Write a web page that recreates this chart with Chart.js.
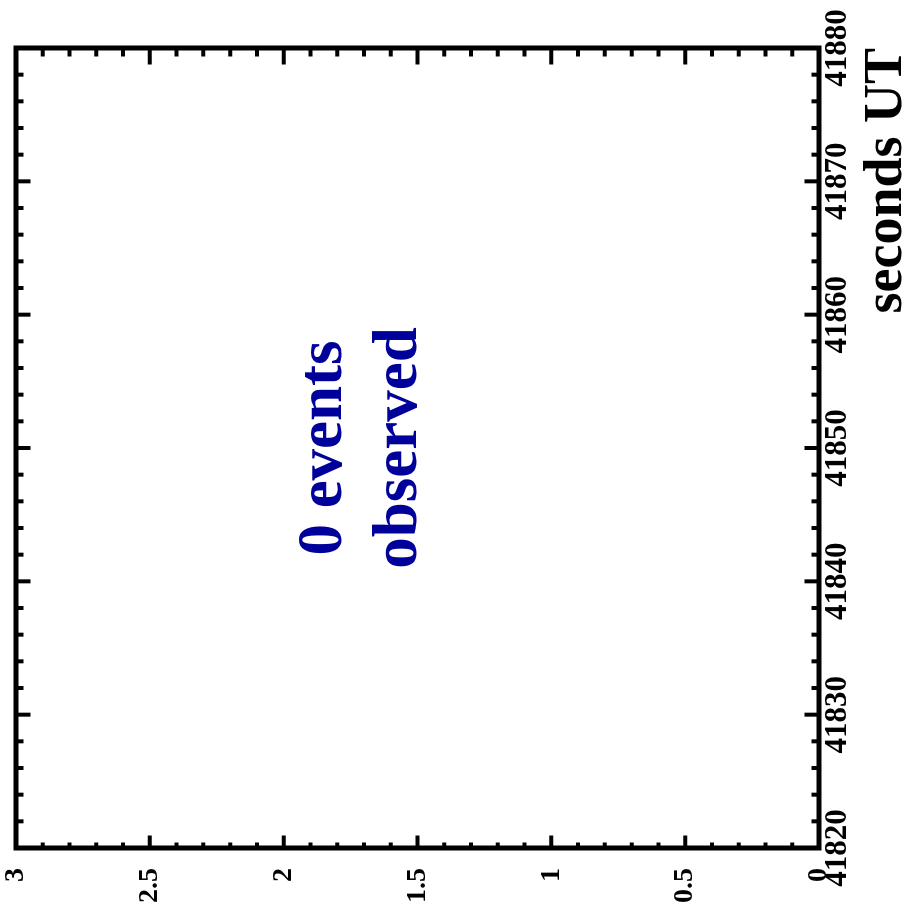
<!DOCTYPE html>
<html>
<head>
<meta charset="utf-8">
<script src="https://cdn.jsdelivr.net/npm/chart.js@4"></script>
<style>
  html, body { margin: 0; padding: 0; background: #fff; overflow: hidden; }
  /* the plot is drawn upright and turned a quarter turn counterclockwise */
  #wrap {
    position: absolute; left: 0; top: 0;
    width: 918px; height: 909px;
    transform-origin: 0 0;
    transform: translate(0, 918px) rotate(-90deg);
  }
</style>
</head>
<body>
<div id="wrap"><canvas id="events-chart"></canvas></div>
<script>
// Data

const xTicks = [41820, 41830, 41840, 41850, 41860, 41870, 41880];
const yTicks = [0, 0.5, 1, 1.5, 2, 2.5, 3];
const yTickLabels = ['0', '0.5', '1', '1.5', '2', '2.5', '3'];
const eventTimes = [];     // no events in the window
const eventCounts = [];

const serif = '"Liberation Serif", "Times New Roman", serif';

// Frame + inward ticks on all four sides

const framePlugin = {
    id: 'frame',
    afterDraw(chart) {
        const ctx = chart.ctx;
        const a = chart.chartArea;
        const xs = chart.scales.x;
        const ys = chart.scales.y;
        const lw = 5;
        ctx.save();
        ctx.strokeStyle = '#000';
        ctx.lineCap = 'butt';

        ctx.lineWidth = 4;
        for (let v = xs.min; v <= xs.max + 1e-6; v += 2) {
            const p = xs.getPixelForValue(v);
            const major = Math.abs(v % 10) < 1e-6;
            const L = (major ? 12 : 5) + lw / 2;
            ctx.beginPath();
            ctx.moveTo(p, a.bottom); ctx.lineTo(p, a.bottom - L);
            ctx.moveTo(p, a.top); ctx.lineTo(p, a.top + L);
            ctx.stroke();
        }
        for (let i = 0; i <= 30; i++) {
            const v = i / 10;
            const p = ys.getPixelForValue(v);
            const major = i % 5 === 0;
            const Ll = (major ? 10 : 3) + lw / 2;
            const Lr = (major ? 14 : 6) + lw / 2;
            ctx.beginPath();
            ctx.moveTo(a.left, p); ctx.lineTo(a.left + Ll, p);
            ctx.moveTo(a.right, p); ctx.lineTo(a.right - Lr, p);
            ctx.stroke();
        }

        ctx.lineWidth = lw;
        ctx.strokeRect(a.left, a.top, a.right - a.left, a.bottom - a.top);
        ctx.restore();
    }
};

// "0 events observed" note

const notePlugin = {
    id: 'note',
    afterDraw(chart) {
        const ctx = chart.ctx;
        const xs = chart.scales.x;
        const ys = chart.scales.y;
        const x = xs.getPixelForValue(41850);
        ctx.save();
        ctx.fillStyle = '#00009a';
        ctx.font = 'bold 63px ' + serif;
        ctx.textAlign = 'center';
        ctx.textBaseline = 'alphabetic';
        ctx.fillText(eventCounts.length + ' events', x, ys.getPixelForValue(1.785));
        ctx.fillText('observed', x, ys.getPixelForValue(1.507));
        ctx.restore();
    }
};

const eventsChart = new Chart(document.getElementById('events-chart'), {
    type: 'scatter',
    data: {
        datasets: [{
            data: eventTimes.map((t, i) => ({ x: t, y: eventCounts[i] })),
            backgroundColor: '#00009a'
        }]
    },
    options: {
        responsive: true,
        maintainAspectRatio: false,
        animation: false,
        layout: { padding: { left: 0, top: 16, right: 48, bottom: 0 } },
        plugins: {
            legend: { display: false },
            tooltip: { enabled: false }
        },
        scales: {
            x: {
                type: 'linear',
                min: 41820,
                max: 41880,
                afterBuildTicks: s => { s.ticks = xTicks.map(v => ({ value: v })); },
                afterFit: s => { s.height = 90; s.paddingLeft = 0; s.paddingRight = 0; },
                grid: { display: false, drawTicks: false },
                border: { display: false },
                ticks: {
                    color: '#000',
                    padding: 3,
                    maxRotation: 0,
                    autoSkip: false,
                    font: { family: serif, size: 31, weight: 'bold', lineHeight: 1 },
                    callback: v => String(v)
                },
                title: {
                    display: true,
                    text: 'seconds UT',
                    align: 'end',
                    color: '#000',
                    padding: 0,
                    font: { family: serif, size: 54, weight: 'bold', lineHeight: 0.815 }
                }
            },
            y: {
                type: 'linear',
                min: 0,
                max: 3,
                afterBuildTicks: s => { s.ticks = yTicks.map(v => ({ value: v })); },
                afterFit: s => { s.width = 70; s.paddingTop = 0; s.paddingBottom = 0; },
                grid: { display: false, drawTicks: false },
                border: { display: false },
                ticks: {
                    color: '#000',
                    padding: 20,
                    autoSkip: false,
                    font: { family: serif, size: 28, weight: 'bold', lineHeight: 1 },
                    callback: v => yTickLabels[yTicks.indexOf(v)]
                }
            }
        }
    },
    plugins: [framePlugin, notePlugin]
});
</script>
</body>
</html>
